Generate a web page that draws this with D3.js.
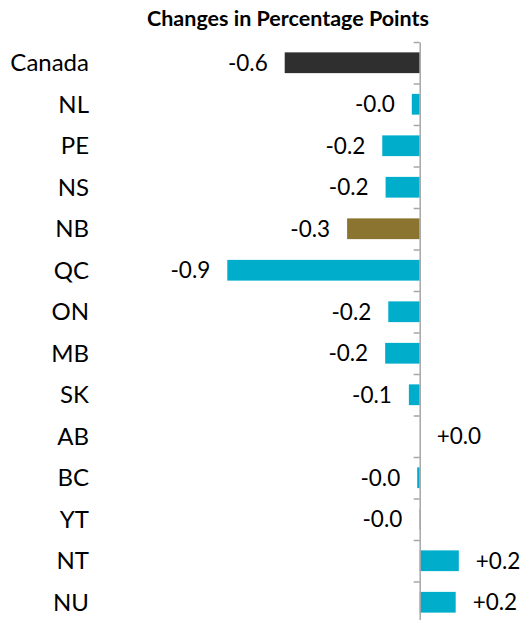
<!DOCTYPE html>
<html>
<head>
<meta charset="utf-8">
<script src="https://cdn.jsdelivr.net/npm/d3@7"></script>
<style>
  body { margin: 0; background: #fff; }
  text { font-family: Lato, "Liberation Sans", sans-serif; fill: #000; }
</style>
</head>
<body>
<script>
// data
const provinces = ['Canada', 'NL', 'PE', 'NS', 'NB', 'QC', 'ON', 'MB', 'SK', 'AB', 'BC', 'YT', 'NT', 'NU'];
const changes = [-0.649, -0.038, -0.18, -0.164, -0.349, -0.925, -0.151, -0.166, -0.052, 0.0, -0.012, -0.002, 0.188, 0.173];
const highlight = { Canada: '#2f2f2f', NB: '#8a742f' };
const title = 'Changes in Percentage Points';

const width = 522;
const height = 620;

const svg = d3.select('body')
  .append('svg')
  .attr('width', width)
  .attr('height', height);

const data = provinces.map((p, i) => ({ name: p, value: changes[i] }));

// x: zero at ~420, about 208 px per point
const x = d3.scaleLinear()
  .domain([-1, 0.4])
  .range([211.7, 502.9]);

const y = d3.scaleBand()
  .domain(provinces)
  .range([42, 623])
  .paddingInner(0.5)
  .paddingOuter(0.25);

// boundaries between categories for the tick marks
const yEdge = d3.scaleLinear()
  .domain([0, provinces.length])
  .range([42, 623]);

// title
svg.append('text')
  .attr('x', 288)
  .attr('y', 26)
  .attr('text-anchor', 'middle')
  .style('font-weight', 'bold')
  .style('font-size', '21.5px')
  .text(title);

// bars
svg.selectAll('.bar')
  .data(data)
  .enter()
  .append('rect')
  .attr('class', 'bar')
  .attr('x', (d) => x(Math.min(0, d.value)))
  .attr('y', (d) => y(d.name))
  .attr('width', (d) => Math.abs(x(d.value) - x(0)))
  .attr('height', y.bandwidth())
  .style('fill', (d) => highlight[d.name] || '#00adcb');

// axis at zero
const axis = svg.append('g')
  .attr('transform', `translate(${x(0)}, 0)`)
  .call(d3.axisLeft(yEdge)
    .tickValues(d3.range(provinces.length + 1))
    .tickFormat('')
    .tickSize(6)
    .tickSizeOuter(0));
axis.select('.domain').attr('stroke', '#a6a6a6').attr('stroke-width', 1.5);
axis.selectAll('.tick line').attr('stroke', '#a6a6a6').attr('stroke-width', 1.5);

// category labels
svg.selectAll('.cat')
  .data(data)
  .enter()
  .append('text')
  .attr('class', 'cat')
  .attr('x', 89)
  .attr('y', (d) => y(d.name) + y.bandwidth() / 2)
  .attr('dy', '0.36em')
  .attr('text-anchor', 'end')
  .style('font-size', '24px')
  .text((d) => d.name);

// value labels
const fmt = (v) => (v < 0 ? '-' : '+') + Math.abs(v).toFixed(1);

svg.selectAll('.val')
  .data(data)
  .enter()
  .append('text')
  .attr('class', 'val')
  .attr('x', (d) => d.value < 0 ? x(d.value) - 17 : x(d.value) + 17)
  .attr('y', (d) => y(d.name) + y.bandwidth() / 2)
  .attr('dy', '0.36em')
  .attr('text-anchor', (d) => d.value < 0 ? 'end' : 'start')
  .style('font-size', '22.5px')
  .text((d) => fmt(d.value));
</script>
</body>
</html>
